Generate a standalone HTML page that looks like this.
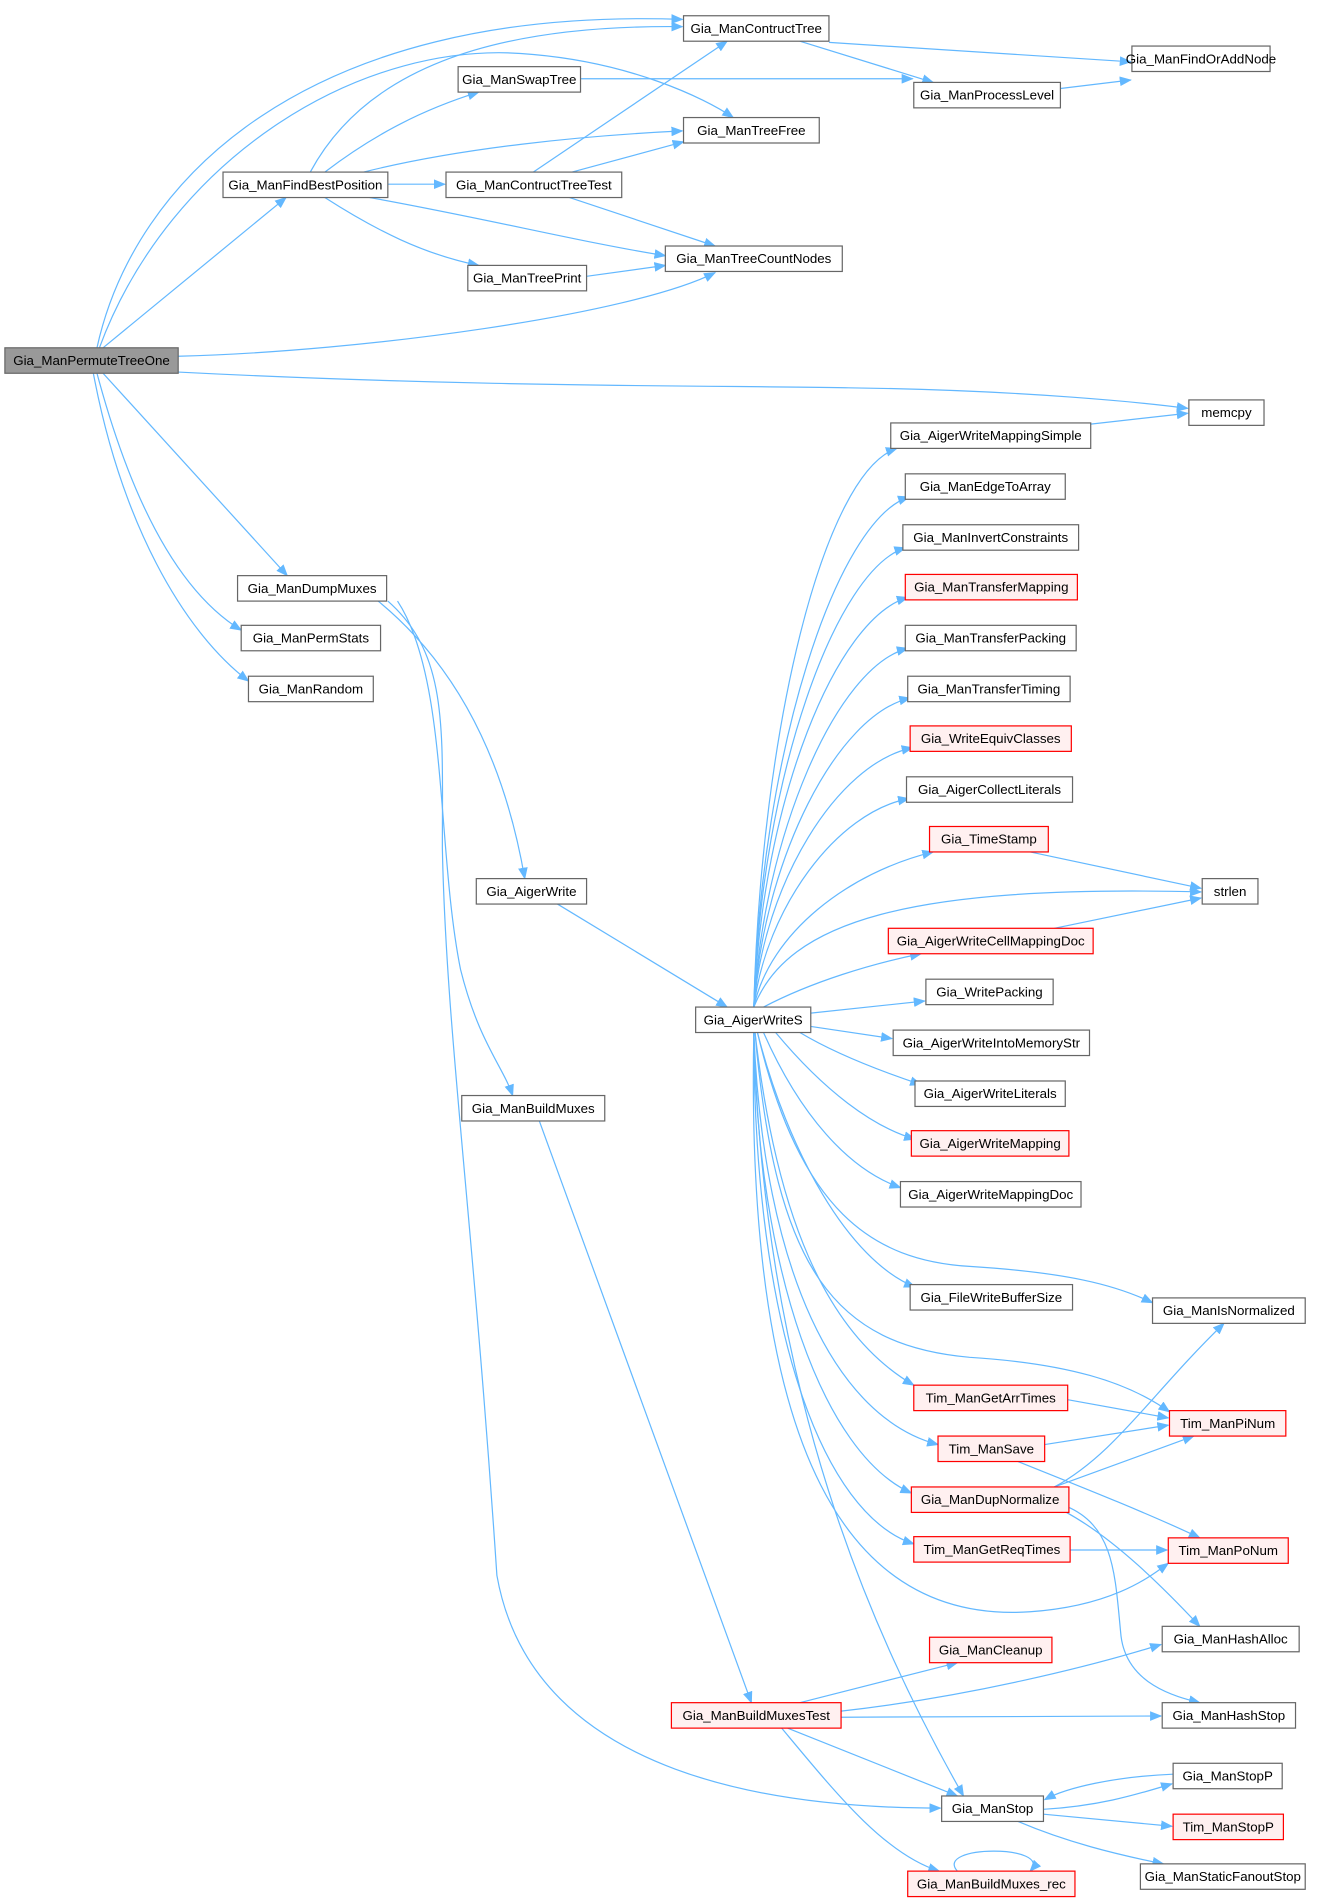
<!DOCTYPE html>
<html><head><meta charset="utf-8"><style>
html,body{margin:0;padding:0;background:#fff;}
svg{display:block}
text{font-family:"Liberation Sans",Arial,sans-serif;font-size:11px;fill:#000;text-anchor:middle;dominant-baseline:central}
.e{fill:none;stroke:#63b8ff;stroke-width:1}
.n{fill:#fff;stroke:#666;stroke-width:1}
.r{fill:#fff0f0;stroke:#f00;stroke-width:1}
</style></head><body>
<svg width="1321" height="1899" viewBox="0 0 1090 1567" xmlns="http://www.w3.org/2000/svg">
<defs><marker id="a" markerWidth="10" markerHeight="8" refX="9" refY="4" orient="auto" markerUnits="userSpaceOnUse"><path d="M0,0 L10,4 L0,8 z" fill="#63b8ff"/></marker></defs>
<g class="e" marker-end="url(#a)">
<path d="M80,287 C110,150 250,5 563,16"/>
<path d="M82,287 C140,130 300,30 440,45 C520,52 580,80 605,97"/>
<path d="M85,287 L236,163"/>
<path d="M147,294 C300,290 520,260 590,225"/>
<path d="M147,307 C400,320 600,318 700,320 C850,322 950,333 980,337"/>
<path d="M85,308 L237,475"/>
<path d="M80,308 C110,420 150,490 199,520"/>
<path d="M77,308 C100,430 150,520 205,562"/>
<path d="M256,142 C300,60 400,20 563,22"/>
<path d="M268,142 C310,110 350,90 395,76"/>
<path d="M300,142 C380,122 480,112 563,108"/>
<path d="M320,152 L367,152"/>
<path d="M305,163 C400,180 480,200 549,211"/>
<path d="M268,163 C310,190 350,210 395,219"/>
<path d="M479,65 L753,65"/>
<path d="M440,142 L600,34"/>
<path d="M472,142 L564,117"/>
<path d="M470,163 L590,203"/>
<path d="M484,228 L549,219"/>
<path d="M684,35 L933,51"/>
<path d="M660,34 L770,68"/>
<path d="M875,73 L933,66"/>
<path d="M900,350 L980,341"/>
<path d="M312,496 C390,560 420,650 433,725"/>
<path d="M328,496 C370,560 360,700 380,800 C395,860 415,880 423,904"/>
<path d="M320,496 C370,540 365,600 365,700 C368,850 390,1000 410,1300 C440,1470 650,1492 776,1492"/>
<path d="M460,746 L600,831"/>
<path d="M445,925 L620,1405"/>
<path d="M622,831 C628,600 680,390 740,370"/>
<path d="M622,831 C628,620 690,430 750,410"/>
<path d="M622,831 C628,640 690,470 747,452"/>
<path d="M622,831 C629,660 690,510 749,493"/>
<path d="M622,831 C630,690 690,550 749,535"/>
<path d="M622,831 C630,710 690,590 751,576"/>
<path d="M622,831 C630,730 690,630 753,617"/>
<path d="M622,831 C632,750 690,670 750,659"/>
<path d="M622,831 C635,770 700,720 770,703"/>
<path d="M622,831 C650,760 750,730 991,736"/>
<path d="M630,831 C670,810 720,795 760,787"/>
<path d="M669,836 L763,826"/>
<path d="M669,847 L736,857"/>
<path d="M660,852 C690,870 730,885 760,895"/>
<path d="M640,852 C680,900 720,930 755,940"/>
<path d="M630,852 C660,920 700,965 743,980"/>
<path d="M625,852 C650,950 700,1040 755,1062"/>
<path d="M625,852 C660,1000 720,1040 800,1045 C880,1050 920,1060 951,1075"/>
<path d="M623,852 C640,1050 690,1110 800,1120 C880,1125 930,1140 965,1165"/>
<path d="M623,852 C640,1000 680,1100 754,1143"/>
<path d="M622,852 C630,1050 690,1170 774,1192"/>
<path d="M622,852 C625,1050 680,1200 752,1232"/>
<path d="M622,852 C622,1100 680,1250 754,1274"/>
<path d="M622,852 C615,1200 700,1340 850,1330 C920,1325 950,1300 964,1290"/>
<path d="M622,852 C630,1150 720,1350 795,1482"/>
<path d="M850,703 L991,733"/>
<path d="M870,766 L991,741"/>
<path d="M881,1155 L964,1170"/>
<path d="M862,1192 L964,1176"/>
<path d="M840,1206 C900,1230 950,1250 990,1269"/>
<path d="M870,1227 C920,1200 950,1150 1010,1092"/>
<path d="M870,1227 L985,1185"/>
<path d="M880,1248 C920,1270 960,1310 990,1342"/>
<path d="M880,1243 C920,1260 920,1300 925,1350 C930,1390 970,1400 990,1405"/>
<path d="M883,1279 L963,1279"/>
<path d="M660,1405 L790,1372"/>
<path d="M694,1412 C800,1400 900,1375 958,1357"/>
<path d="M694,1417 L958,1416"/>
<path d="M650,1426 L790,1482"/>
<path d="M645,1426 C690,1480 730,1530 775,1544"/>
<path d="M790,1544 C770,1522 870,1522 850,1544"/>
<path d="M968,1464 C920,1466 880,1475 862,1485"/>
<path d="M861,1493 C910,1490 940,1480 967,1472"/>
<path d="M861,1497 L967,1507"/>
<path d="M840,1503 C880,1520 920,1530 960,1538"/>
</g>
<rect x="4" y="287" width="143" height="21" fill="#999" stroke="#666"/><text x="75.5" y="297.5">Gia_ManPermuteTreeOne</text>
<g>
<rect class="n" x="564" y="13" width="120" height="21"/><text x="624" y="23.5">Gia_ManContructTree</text>
<rect class="n" x="934" y="38" width="114" height="21"/><text x="991" y="48.5">Gia_ManFindOrAddNode</text>
<rect class="n" x="378" y="55" width="101" height="21"/><text x="428.5" y="65.5">Gia_ManSwapTree</text>
<rect class="n" x="754" y="68" width="121" height="21"/><text x="814.5" y="78.5">Gia_ManProcessLevel</text>
<rect class="n" x="564" y="97" width="112" height="21"/><text x="620" y="107.5">Gia_ManTreeFree</text>
<rect class="n" x="184" y="142" width="136" height="21"/><text x="252" y="152.5">Gia_ManFindBestPosition</text>
<rect class="n" x="368" y="142" width="145" height="21"/><text x="440.5" y="152.5">Gia_ManContructTreeTest</text>
<rect class="n" x="549" y="203" width="146" height="21"/><text x="622" y="213.5">Gia_ManTreeCountNodes</text>
<rect class="n" x="386" y="219" width="98" height="21"/><text x="435" y="229.5">Gia_ManTreePrint</text>
<rect class="n" x="981" y="330" width="62" height="21"/><text x="1012" y="340.5">memcpy</text>
<rect class="n" x="735" y="349" width="165" height="21"/><text x="817.5" y="359.5">Gia_AigerWriteMappingSimple</text>
<rect class="n" x="747" y="391" width="132" height="21"/><text x="813" y="401.5">Gia_ManEdgeToArray</text>
<rect class="n" x="745" y="433" width="145" height="21"/><text x="817.5" y="443.5">Gia_ManInvertConstraints</text>
<rect class="r" x="747" y="474" width="142" height="21"/><text x="818" y="484.5">Gia_ManTransferMapping</text>
<rect class="n" x="747" y="516" width="141" height="21"/><text x="817.5" y="526.5">Gia_ManTransferPacking</text>
<rect class="n" x="749" y="558" width="134" height="21"/><text x="816" y="568.5">Gia_ManTransferTiming</text>
<rect class="r" x="751" y="599" width="133" height="21"/><text x="817.5" y="609.5">Gia_WriteEquivClasses</text>
<rect class="n" x="748" y="641" width="137" height="21"/><text x="816.5" y="651.5">Gia_AigerCollectLiterals</text>
<rect class="r" x="767" y="682" width="98" height="21"/><text x="816" y="692.5">Gia_TimeStamp</text>
<rect class="n" x="992" y="725" width="46" height="21"/><text x="1015" y="735.5">strlen</text>
<rect class="r" x="733" y="766" width="169" height="21"/><text x="817.5" y="776.5">Gia_AigerWriteCellMappingDoc</text>
<rect class="n" x="764" y="808" width="105" height="21"/><text x="816.5" y="818.5">Gia_WritePacking</text>
<rect class="n" x="574" y="831" width="95" height="21"/><text x="621.5" y="841.5">Gia_AigerWriteS</text>
<rect class="n" x="737" y="850" width="162" height="21"/><text x="818" y="860.5">Gia_AigerWriteIntoMemoryStr</text>
<rect class="n" x="755" y="892" width="124" height="21"/><text x="817" y="902.5">Gia_AigerWriteLiterals</text>
<rect class="r" x="752" y="933" width="130" height="21"/><text x="817" y="943.5">Gia_AigerWriteMapping</text>
<rect class="n" x="743" y="975" width="149" height="21"/><text x="817.5" y="985.5">Gia_AigerWriteMappingDoc</text>
<rect class="n" x="196" y="475" width="123" height="21"/><text x="257.5" y="485.5">Gia_ManDumpMuxes</text>
<rect class="n" x="199" y="516" width="115" height="21"/><text x="256.5" y="526.5">Gia_ManPermStats</text>
<rect class="n" x="205" y="558" width="103" height="21"/><text x="256.5" y="568.5">Gia_ManRandom</text>
<rect class="n" x="393" y="725" width="91" height="21"/><text x="438.5" y="735.5">Gia_AigerWrite</text>
<rect class="n" x="381" y="904" width="118" height="21"/><text x="440" y="914.5">Gia_ManBuildMuxes</text>
<rect class="n" x="751" y="1060" width="134" height="21"/><text x="818" y="1070.5">Gia_FileWriteBufferSize</text>
<rect class="n" x="951" y="1071" width="126" height="21"/><text x="1014" y="1081.5">Gia_ManIsNormalized</text>
<rect class="r" x="754" y="1143" width="127" height="21"/><text x="817.5" y="1153.5">Tim_ManGetArrTimes</text>
<rect class="r" x="965" y="1164" width="96" height="21"/><text x="1013" y="1174.5">Tim_ManPiNum</text>
<rect class="r" x="774" y="1185" width="88" height="21"/><text x="818" y="1195.5">Tim_ManSave</text>
<rect class="r" x="752" y="1227" width="130" height="21"/><text x="817" y="1237.5">Gia_ManDupNormalize</text>
<rect class="r" x="754" y="1268" width="129" height="21"/><text x="818.5" y="1278.5">Tim_ManGetReqTimes</text>
<rect class="r" x="964" y="1269" width="99" height="21"/><text x="1013.5" y="1279.5">Tim_ManPoNum</text>
<rect class="r" x="767" y="1351" width="101" height="21"/><text x="817.5" y="1361.5">Gia_ManCleanup</text>
<rect class="n" x="959" y="1342" width="113" height="21"/><text x="1015.5" y="1352.5">Gia_ManHashAlloc</text>
<rect class="r" x="554" y="1405" width="140" height="21"/><text x="624" y="1415.5">Gia_ManBuildMuxesTest</text>
<rect class="n" x="959" y="1405" width="110" height="21"/><text x="1014" y="1415.5">Gia_ManHashStop</text>
<rect class="n" x="968" y="1455" width="90" height="21"/><text x="1013" y="1465.5">Gia_ManStopP</text>
<rect class="n" x="777" y="1482" width="84" height="21"/><text x="819" y="1492.5">Gia_ManStop</text>
<rect class="r" x="968" y="1497" width="91" height="21"/><text x="1013.5" y="1507.5">Tim_ManStopP</text>
<rect class="r" x="749" y="1544" width="138" height="21"/><text x="818" y="1554.5">Gia_ManBuildMuxes_rec</text>
<rect class="n" x="941" y="1538" width="136" height="21"/><text x="1009" y="1548.5">Gia_ManStaticFanoutStop</text>
</g>
</svg>
</body></html>
